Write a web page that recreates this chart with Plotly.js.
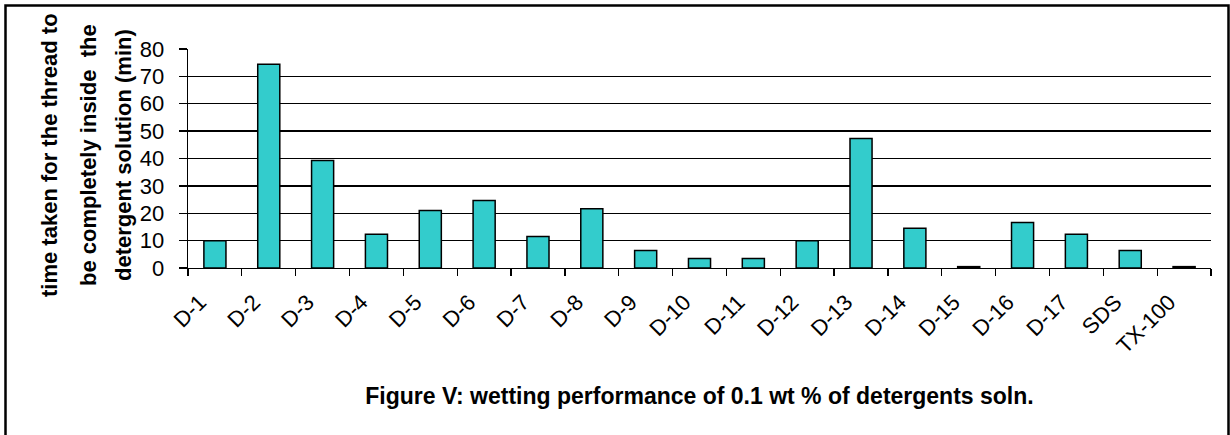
<!DOCTYPE html>
<html>
<head>
<meta charset="utf-8">
<script src="https://cdn.plot.ly/plotly-3.0.1.min.js"></script>
<style>
  html, body { margin: 0; padding: 0; background: #ffffff; }
  #chart { width: 1230px; height: 435px; }
</style>
</head>
<body>
<div id="chart"></div>
<script>
// Data
const categories = ["D-1","D-2","D-3","D-4","D-5","D-6","D-7","D-8","D-9","D-10",
                    "D-11","D-12","D-13","D-14","D-15","D-16","D-17","SDS","TX-100"];
const wettingTime = [10, 74.4, 39.3, 12.3, 21, 24.7, 11.5, 21.6, 6.4, 3.5,
                     3.5, 10, 47.3, 14.5, 0.5, 16.6, 12.3, 6.4, 0.5];
const yTickValues = [0, 10, 20, 30, 40, 50, 60, 70, 80];
const yTitleLines = ["time taken for the thread to", "be completely inside  the", "detergent solution (min)"];
const chartTitle = "Figure V: wetting performance of 0.1 wt % of detergents soln.";

const FONT = '"Liberation Sans", Arial, sans-serif';
const W = 1230, H = 435;
const L = 188, R = 19, T = 49, B = 167;
const plotW = W - L - R, plotH = H - T - B;
const px2x = p => (p - L) / plotW;
const py2y = p => (H - B - p) / plotH;
const catW = plotW / categories.length;
const labelShiftPx = 15;              // labels sit a little left of the category centre
const labelShift = labelShiftPx / catW;
const catIndex = categories.map((c, i) => i);

const barTrace = {
  type: 'bar',
  x: categories,
  y: wettingTime,
  marker: { color: '#33CCCC', line: { color: '#000000', width: 1.5 } },
  hoverinfo: 'x+y'
};

// invisible helper so the label axis is drawn
const labelTrace = {
  type: 'scatter',
  x: catIndex,
  y: wettingTime,
  xaxis: 'x2', yaxis: 'y',
  mode: 'none',
  hoverinfo: 'skip',
  showlegend: false
};

const yTitleX = [49, 88, 123];
const annotations = yTitleLines.map((t, i) => ({
  text: '<b>' + t + '</b>',
  xref: 'paper', yref: 'paper',
  x: px2x(yTitleX[i]), y: py2y(155),
  xanchor: 'center', yanchor: 'middle',
  textangle: -90,
  showarrow: false,
  font: { family: FONT, size: 22, color: '#000000' }
}));

const layout = {
  width: W, height: H, autosize: false,
  margin: { l: L, r: R, t: T, b: B, pad: 0 },
  paper_bgcolor: '#ffffff', plot_bgcolor: '#ffffff',
  showlegend: false,
  bargap: 0.59,
  font: { family: FONT, color: '#000000' },
  title: {
    text: '<b>' + chartTitle + '</b>',
    font: { family: FONT, size: 23, color: '#000000' },
    xref: 'paper', x: 0.5, xanchor: 'center',
    yref: 'container', y: 1 - 396 / H, yanchor: 'middle'
  },
  xaxis: {
    type: 'category',
    showticklabels: false,
    ticks: 'outside', ticklen: 7, tickwidth: 1.3, tickcolor: '#000000',
    tickson: 'boundaries',
    showline: true, linecolor: '#000000', linewidth: 1.3,
    showgrid: false, zeroline: false,
    automargin: false,
    fixedrange: true
  },
  // label-only axis, same categories, offset slightly to the left like the original
  xaxis2: {
    overlaying: 'x', anchor: 'y', side: 'bottom',
    type: 'linear',
    range: [-0.5 + labelShift, categories.length - 0.5 + labelShift],
    tickmode: 'array',
    tickvals: catIndex,
    ticktext: categories,
    tickangle: -45,
    tickfont: { family: FONT, size: 22, color: '#000000' },
    ticks: '', ticklabelstandoff: 16,
    showline: false, showgrid: false, zeroline: false,
    automargin: false,
    fixedrange: true
  },
  yaxis: {
    range: [0, 80],
    tickmode: 'array',
    tickvals: yTickValues,
    ticktext: yTickValues.map(String),
    tickfont: { family: FONT, size: 22, color: '#000000' },
    ticks: 'outside', ticklen: 8, tickwidth: 1.3, tickcolor: '#000000',
    ticklabelstandoff: 10,
    showline: true, linecolor: '#000000', linewidth: 1.3,
    showgrid: true, gridcolor: '#000000', gridwidth: 1.3,
    zeroline: false,
    automargin: false,
    fixedrange: true
  },
  annotations: annotations,
  shapes: [{
    type: 'rect', xref: 'paper', yref: 'paper',
    x0: px2x(5.5), x1: px2x(1228.5),
    y0: py2y(445), y1: py2y(5.5),
    line: { color: '#000000', width: 2.5 },
    fillcolor: 'rgba(0,0,0,0)',
    layer: 'above'
  }]
};

Plotly.newPlot('chart', [barTrace, labelTrace], layout, { displayModeBar: false, staticPlot: true });
</script>
</body>
</html>
